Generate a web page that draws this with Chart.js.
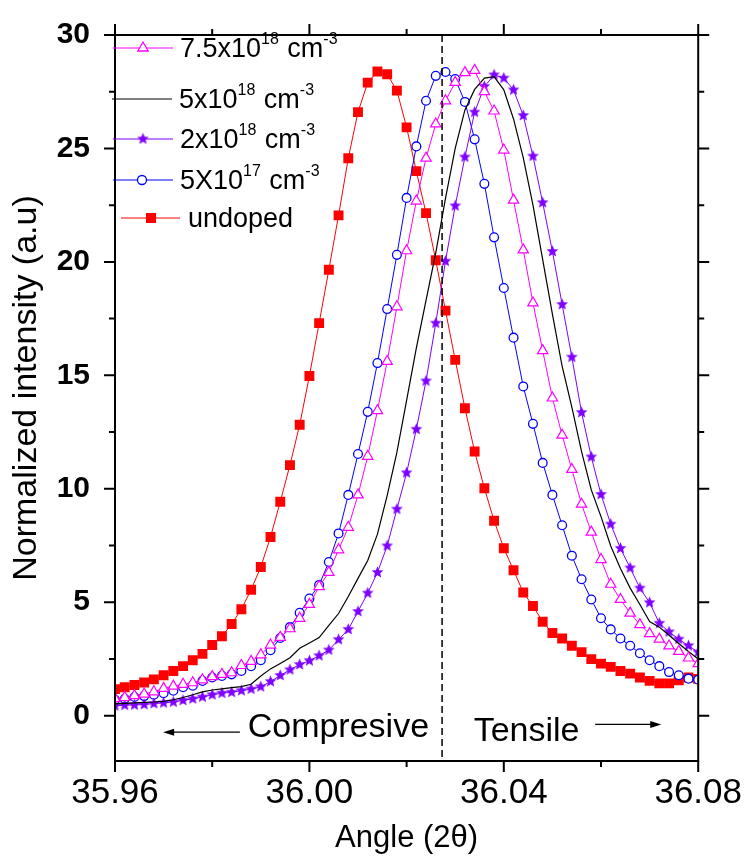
<!DOCTYPE html>
<html>
<head>
<meta charset="utf-8">
<script src="https://cdn.jsdelivr.net/npm/chart.js@4/dist/chart.umd.min.js"></script>
<style>
  html, body { margin: 0; padding: 0; background: #fff; }
  #wrap { width: 745px; height: 867px; position: relative; }
</style>
</head>
<body>
<div id="wrap"><canvas id="chart_xrdPeaks"></canvas></div>
<script>
// angle grid, 2theta (deg)
var angles = [
  35.960, 35.962, 35.964, 35.966, 35.968, 35.970, 35.972, 35.974, 35.976, 35.978,
  35.980, 35.982, 35.984, 35.986, 35.988, 35.990, 35.992, 35.994, 35.996, 35.998,
  36.000, 36.002, 36.004, 36.006, 36.008, 36.010, 36.012, 36.014, 36.016, 36.018,
  36.020, 36.022, 36.024, 36.026, 36.028, 36.030, 36.032, 36.034, 36.036, 36.038,
  36.040, 36.042, 36.044, 36.046, 36.048, 36.050, 36.052, 36.054, 36.056, 36.058,
  36.060, 36.062, 36.064, 36.066, 36.068, 36.070, 36.072, 36.074, 36.076, 36.078,
  36.080
];

var dop75e18 = [
  0.75, 0.80, 0.88, 0.95, 1.05, 1.20, 1.30, 1.38, 1.45, 1.58,
  1.72, 1.82, 1.89, 2.21, 2.39, 2.68, 3.11, 3.45, 3.83, 4.29,
  4.90, 5.69, 6.31, 7.31, 8.30, 9.73, 11.43, 13.44, 15.61, 18.02,
  20.49, 22.68, 24.57, 26.08, 27.10, 27.91, 28.34, 28.44, 27.50, 26.65,
  24.93, 22.72, 20.53, 18.19, 16.09, 14.00, 12.36, 10.85, 9.32, 8.09,
  6.88, 5.79, 5.12, 4.52, 4.01, 3.61, 3.37, 3.07, 2.83, 2.54,
  2.29
];
var dop5e18 = [
  0.52, 0.54, 0.56, 0.58, 0.60, 0.63, 0.70, 0.80, 0.92, 1.05,
  1.13, 1.18, 1.23, 1.28, 1.38, 1.75, 2.06, 2.30, 2.55, 2.97,
  3.20, 3.44, 3.98, 4.50, 5.25, 6.05, 6.84, 8.00, 9.70, 11.60,
  13.90, 16.20, 18.30, 20.40, 22.80, 25.00, 26.70, 27.60, 28.10, 28.16,
  27.58, 26.30, 24.60, 22.50, 20.10, 17.70, 15.40, 13.60, 11.64, 9.95,
  8.77, 7.48, 6.48, 5.62, 4.90, 4.15, 3.90, 3.54, 3.18, 2.83,
  2.50
];
var dop2e18 = [
  0.43, 0.46, 0.47, 0.49, 0.53, 0.56, 0.60, 0.67, 0.74, 0.82,
  0.92, 0.99, 1.03, 1.10, 1.17, 1.27, 1.50, 1.77, 2.02, 2.25,
  2.42, 2.64, 2.89, 3.35, 3.80, 4.59, 5.40, 6.31, 7.48, 9.10,
  10.70, 12.62, 14.75, 17.30, 20.03, 22.47, 24.62, 26.60, 27.73, 28.24,
  28.10, 27.58, 26.45, 24.66, 22.61, 20.46, 18.12, 15.80, 13.36, 11.40,
  9.75, 8.44, 7.37, 6.51, 5.62, 4.98, 4.07, 3.69, 3.37, 3.08,
  2.80
];
var dop5e17 = [
  0.70, 0.74, 0.82, 0.86, 0.92, 0.99, 1.10, 1.25, 1.32, 1.53,
  1.68, 1.75, 1.82, 1.97, 2.18, 2.44, 2.88, 3.42, 3.90, 4.53,
  5.16, 5.76, 6.77, 8.03, 9.73, 11.53, 13.39, 15.54, 17.92, 20.31,
  22.82, 25.09, 27.10, 28.20, 28.37, 28.06, 27.05, 25.40, 23.44, 21.08,
  18.85, 16.66, 14.51, 12.86, 11.14, 9.73, 8.39, 7.05, 6.01, 5.12,
  4.29, 3.80, 3.40, 3.08, 2.75, 2.44, 2.18, 1.92, 1.78, 1.63,
  1.58
];
var undoped = [
  1.17, 1.25, 1.35, 1.46, 1.60, 1.78, 1.97, 2.18, 2.44, 2.72,
  3.11, 3.50, 4.04, 4.69, 5.55, 6.55, 7.87, 9.43, 11.04, 12.82,
  14.97, 17.30, 19.65, 22.05, 24.57, 26.60, 27.90, 28.39, 28.27, 27.55,
  25.93, 24.00, 22.15, 20.07, 17.85, 15.68, 13.55, 11.64, 10.02, 8.59,
  7.38, 6.41, 5.43, 4.83, 4.14, 3.64, 3.40, 3.08, 2.80, 2.49,
  2.29, 2.15, 1.97, 1.85, 1.68, 1.53, 1.42, 1.42, 1.56, 1.68,
  1.62
];

// legend text: [base, sup, base, sup]
var legendLabels = [
  ['7.5x10', '18', ' cm', '-3'],
  ['5x10', '18', ' cm', '-3'],
  ['2x10', '18', ' cm', '-3'],
  ['5X10', '17', ' cm', '-3'],
  ['undoped', '', '', '']
];

var xMajorTicks = [35.96, 36.00, 36.04, 36.08];
var xMinorTicks = [35.98, 36.02, 36.06];
var yMajorTicks = [0, 5, 10, 15, 20, 25, 30];
var yMinorTicks = [2.5, 7.5, 12.5, 17.5, 22.5, 27.5];
var boundaryAngle = 36.0273;

var FONT = "'Liberation Sans', Arial, sans-serif";

function pts(vals) {
  return vals.map(function (v, i) { return { x: angles[i], y: v }; });
}

function makeStar(r, color) {
  var c = document.createElement('canvas');
  var s = Math.ceil(r * 2 + 2);
  c.width = s; c.height = s;
  var g = c.getContext('2d');
  g.fillStyle = color;
  g.beginPath();
  for (var i = 0; i < 10; i++) {
    var rr = (i % 2) ? r * 0.45 : r;
    var a = -Math.PI / 2 + i * Math.PI / 5;
    g.lineTo(s / 2 + rr * Math.cos(a), s / 2 + rr * Math.sin(a));
  }
  g.closePath();
  g.fill();
  return c;
}
var starImg = makeStar(6.2, '#7F00FF');

var colors = ['#FF00FF', '#000000', '#7F00FF', '#0000FF', '#FF0000'];

// frame, outward tick marks, dashed line, annotations, legend
var decorations = {
  id: 'decorations',
  afterDraw: function (chart) {
    var ctx = chart.ctx, a = chart.chartArea;
    var xs = chart.scales.x, ys = chart.scales.y;
    ctx.save();

    // dashed boundary
    var bx = xs.getPixelForValue(boundaryAngle);
    ctx.strokeStyle = '#000';
    ctx.lineWidth = 1.5;
    ctx.setLineDash([7, 4]);
    ctx.beginPath(); ctx.moveTo(bx, a.top); ctx.lineTo(bx, a.bottom); ctx.stroke();
    ctx.setLineDash([]);

    // frame
    ctx.lineWidth = 2;
    ctx.strokeRect(a.left, a.top, a.right - a.left, a.bottom - a.top);

    function xt(v, len) {
      var p = xs.getPixelForValue(v);
      ctx.beginPath();
      ctx.moveTo(p, a.bottom); ctx.lineTo(p, a.bottom + len);
      ctx.moveTo(p, a.top); ctx.lineTo(p, a.top - len);
      ctx.stroke();
    }
    function yt(v, len) {
      var p = ys.getPixelForValue(v);
      ctx.beginPath();
      ctx.moveTo(a.left, p); ctx.lineTo(a.left - len, p);
      ctx.moveTo(a.right, p); ctx.lineTo(a.right + len, p);
      ctx.stroke();
    }
    xMajorTicks.forEach(function (v) { xt(v, 11); });
    xMinorTicks.forEach(function (v) { xt(v, 6); });
    yMajorTicks.forEach(function (v) { yt(v, 11); });
    yMinorTicks.forEach(function (v) { yt(v, 6); });

    // y axis title (drawn here so it can be centred on the frame)
    ctx.save();
    ctx.translate(27, (a.top + a.bottom) / 2 - 10);
    ctx.rotate(-Math.PI / 2);
    ctx.fillStyle = '#000';
    ctx.font = '34px ' + FONT;
    ctx.textAlign = 'center';
    ctx.textBaseline = 'middle';
    ctx.fillText('Normalized intensity (a.u)', 0, 0);
    ctx.restore();

    // annotations
    ctx.fillStyle = '#000';
    ctx.font = '34px ' + FONT;
    ctx.textBaseline = 'alphabetic';
    ctx.textAlign = 'left';
    ctx.fillText('Compresive', xs.getPixelForValue(35.9873), ys.getPixelForValue(-0.95));
    ctx.fillText('Tensile', xs.getPixelForValue(36.0338), ys.getPixelForValue(-1.12));

    function arrow(x1, x2, yv) {
      var p1 = xs.getPixelForValue(x1), p2 = xs.getPixelForValue(x2), py = ys.getPixelForValue(yv);
      var d = p2 > p1 ? 1 : -1;
      ctx.lineWidth = 1.2;
      ctx.beginPath(); ctx.moveTo(p1, py); ctx.lineTo(p2 - d * 6, py); ctx.stroke();
      ctx.beginPath();
      ctx.moveTo(p2, py); ctx.lineTo(p2 - d * 11, py - 3.5); ctx.lineTo(p2 - d * 11, py + 3.5);
      ctx.closePath(); ctx.fill();
    }
    arrow(35.9857, 35.9699, -0.73);
    arrow(36.0588, 36.0724, -0.39);

    // legend
    var rows = [
      { y: 48, x1: 113, x2: 173, mx: 143, tx: 180 },
      { y: 99, x1: 112, x2: 172, mx: null, tx: 179 },
      { y: 139, x1: 113, x2: 173, mx: 143, tx: 180 },
      { y: 180, x1: 113, x2: 173, mx: 142, tx: 180 },
      { y: 218, x1: 121, x2: 180, mx: 151, tx: 188 }
    ];
    rows.forEach(function (r, i) {
      ctx.strokeStyle = colors[i];
      ctx.lineWidth = 1;
      ctx.beginPath(); ctx.moveTo(r.x1, r.y); ctx.lineTo(r.x2, r.y); ctx.stroke();
      if (r.mx !== null) {
        ctx.lineWidth = 1.3;
        if (i === 0) {
          var R = 6;
          ctx.beginPath();
          ctx.moveTo(r.mx, r.y - R);
          ctx.lineTo(r.mx + R * 0.866, r.y + R * 0.5);
          ctx.lineTo(r.mx - R * 0.866, r.y + R * 0.5);
          ctx.closePath();
          ctx.fillStyle = '#fff'; ctx.fill(); ctx.stroke();
        } else if (i === 2) {
          ctx.drawImage(starImg, r.mx - starImg.width / 2, r.y - starImg.height / 2);
        } else if (i === 3) {
          ctx.beginPath(); ctx.arc(r.mx, r.y, 4.5, 0, Math.PI * 2);
          ctx.fillStyle = '#fff'; ctx.fill(); ctx.stroke();
        } else if (i === 4) {
          ctx.fillStyle = colors[4];
          ctx.fillRect(r.mx - 5, r.y - 5, 10, 10);
        }
      }
      var lab = legendLabels[i], x = r.tx, base = r.y + 9;
      ctx.fillStyle = '#000';
      for (var k = 0; k < lab.length; k++) {
        if (!lab[k]) continue;
        var sup = (k % 2 === 1);
        ctx.font = (sup ? '16px ' : '27px ') + FONT;
        ctx.fillText(lab[k], x, sup ? base - 13 : base);
        x += ctx.measureText(lab[k]).width + (sup ? 1 : 0);
      }
    });

    ctx.restore();
  }
};

var whiteBg = {
  id: 'whiteBg',
  beforeDraw: function (chart) {
    var ctx = chart.canvas.getContext('2d');
    ctx.save();
    ctx.globalCompositeOperation = 'destination-over';
    ctx.fillStyle = 'white';
    ctx.fillRect(0, 0, chart.canvas.width, chart.canvas.height);
    ctx.restore();
  }
};

var chart_xrdPeaks = new Chart(document.getElementById('chart_xrdPeaks'), {
  type: 'line',
  data: {
    datasets: [
      {
        label: '7.5x10^18 cm^-3',
        data: pts(dop75e18),
        borderColor: colors[0], borderWidth: 1,
        pointStyle: 'triangle', pointRadius: 6,
        pointBackgroundColor: '#fff', pointBorderColor: colors[0], pointBorderWidth: 1.2
      },
      {
        label: '5x10^18 cm^-3',
        data: pts(dop5e18),
        borderColor: colors[1], borderWidth: 1.2,
        pointRadius: 0
      },
      {
        label: '2x10^18 cm^-3',
        data: pts(dop2e18),
        borderColor: colors[2], borderWidth: 1,
        pointStyle: starImg, pointRadius: 6
      },
      {
        label: '5X10^17 cm^-3',
        data: pts(dop5e17),
        borderColor: colors[3], borderWidth: 1,
        pointStyle: 'circle', pointRadius: 4.4,
        pointBackgroundColor: '#fff', pointBorderColor: colors[3], pointBorderWidth: 1.3
      },
      {
        label: 'undoped',
        data: pts(undoped),
        borderColor: colors[4], borderWidth: 1,
        pointStyle: 'rect', pointRadius: 7,
        pointBackgroundColor: colors[4], pointBorderColor: colors[4], pointBorderWidth: 0
      }
    ]
  },
  options: {
    animation: false,
    responsive: true,
    maintainAspectRatio: false,
    layout: { padding: { top: 16, right: 46, left: 0, bottom: 0 } },
    plugins: {
      legend: { display: false },
      tooltip: { enabled: false }
    },
    scales: {
      x: {
        type: 'linear',
        min: 35.96,
        max: 36.08,
        afterBuildTicks: function (s) { s.ticks = xMajorTicks.map(function (v) { return { value: v }; }); },
        afterFit: function (s) { s.height = 106; },
        grid: { display: false },
        border: { display: false },
        ticks: {
          color: '#000',
          font: { family: FONT, size: 35 },
          padding: 3,
          maxRotation: 0,
          callback: function (v) { return v.toFixed(2); }
        },
        title: {
          display: true,
          text: 'Angle (2\u03b8)',
          color: '#000',
          font: { family: FONT, size: 31 },
          padding: { top: 0, bottom: 10 }
        }
      },
      y: {
        type: 'linear',
        min: -2,
        max: 30,
        afterBuildTicks: function (s) { s.ticks = yMajorTicks.map(function (v) { return { value: v }; }); },
        afterFit: function (s) { s.width = 115; },
        grid: { display: false },
        border: { display: false },
        ticks: {
          color: '#000',
          font: { family: FONT, size: 30, weight: 'bold' },
          padding: 17
        },
        title: { display: false }
      }
    }
  },
  plugins: [whiteBg, decorations]
});
</script>
</body>
</html>
